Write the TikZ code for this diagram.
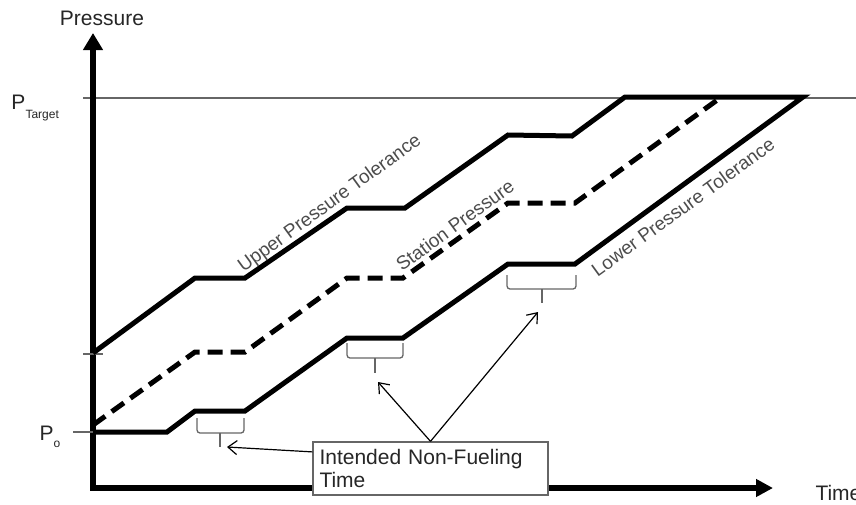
\documentclass[tikz,border=0pt]{standalone}
\usepackage{fontspec}
\setmainfont{Liberation Sans}
\usetikzlibrary{arrows.meta}

\begin{document}
\begin{tikzpicture}[x=1pt, y=-1pt, line width=5pt,
  font=\fontsize{21}{23}\selectfont, text=black!85,
  axis/.style={line width=5.5pt, line join=miter},
  station/.style={line width=5pt, dash pattern=on 15pt off 8pt},
  thin/.style={line width=1.3pt, black!60},
  bracket/.style={thin, rounded corners=3pt},
  pointer/.style={line width=1.2pt, -{Straight Barb[length=9pt,width=14pt]}},
  lbl/.style={font=\fontsize{19}{19}\selectfont, text=black!70, rotate=36},
  notebox/.style={draw, thin, fill=white, text=black!85, minimum width=235pt, minimum height=53pt,
    text width=222pt, inner xsep=6pt, align=left}]
  \useasboundingbox (0,0) rectangle (856,504);
  \draw[thin] (83,98) -- (856,98);
  \draw[axis, {Triangle[length=17pt,width=19pt]}-{Triangle[length=17pt,width=17pt]}] (93,33) -- (93,488) -- (773,488);
  \draw[thin] (83,354) -- (103,354);
  \draw[thin] (73,432) -- (93,432);
  \draw (93,353) -- (195,278) -- (245,278) -- (347,208) -- (405,208) -- (508,135) -- (572,136) -- (625,97)
    -- (803,97) -- (575,264) -- (508,264) -- (403,338) -- (347,338) -- (245,411) -- (195,411) -- (167,432) -- (93,432);
  \draw[station] (93,425) -- (195,352) -- (245,352) -- (347,278) -- (403,278) -- (508,203) -- (575,203) -- (720,98);
  \node[lbl] (upper) at (330,204) {Upper Pressure Tolerance};
  \node[lbl] (stat) at (455,225) {Station Pressure};
  \node[lbl] (lower) at (683,207) {Lower Pressure Tolerance};
  \node[anchor=base] (ylabel) at (102,25) {Pressure};
  \node[anchor=base west, inner sep=0] (xlabel) at (813,500) {Time};
  \node[anchor=base west, inner sep=0] (ptarget) at (9,109) {P\raisebox{-9pt}{\fontsize{12}{12}\selectfont Target}};
  \node[anchor=base west, inner sep=0] (pzero) at (37,440) {P\raisebox{-7pt}{\fontsize{12}{12}\selectfont o}};
  \draw[bracket] (197,418) |- (244,433) -- (244,418);
  \draw[bracket] (220,433) -- (220,447);
  \draw[bracket] (347,343) |- (403,358) -- (403,343);
  \draw[bracket] (375,358) -- (375,373);
  \draw[bracket] (507,275) |- (576,289) -- (576,275);
  \draw[bracket] (542,289) -- (542,303);
  \coordinate (gap1) at (227,447);
  \coordinate (gap2) at (378,382);
  \coordinate (gap3) at (538,312);
  \node[notebox] (note) at (430.5,468.5) {Intended Non-Fueling\\Time};
  \draw[pointer] (note.172) -- (gap1);
  \draw[pointer] (note.north) -- (gap2);
  \draw[pointer] (note.north) -- (gap3);
\end{tikzpicture}
\end{document}
